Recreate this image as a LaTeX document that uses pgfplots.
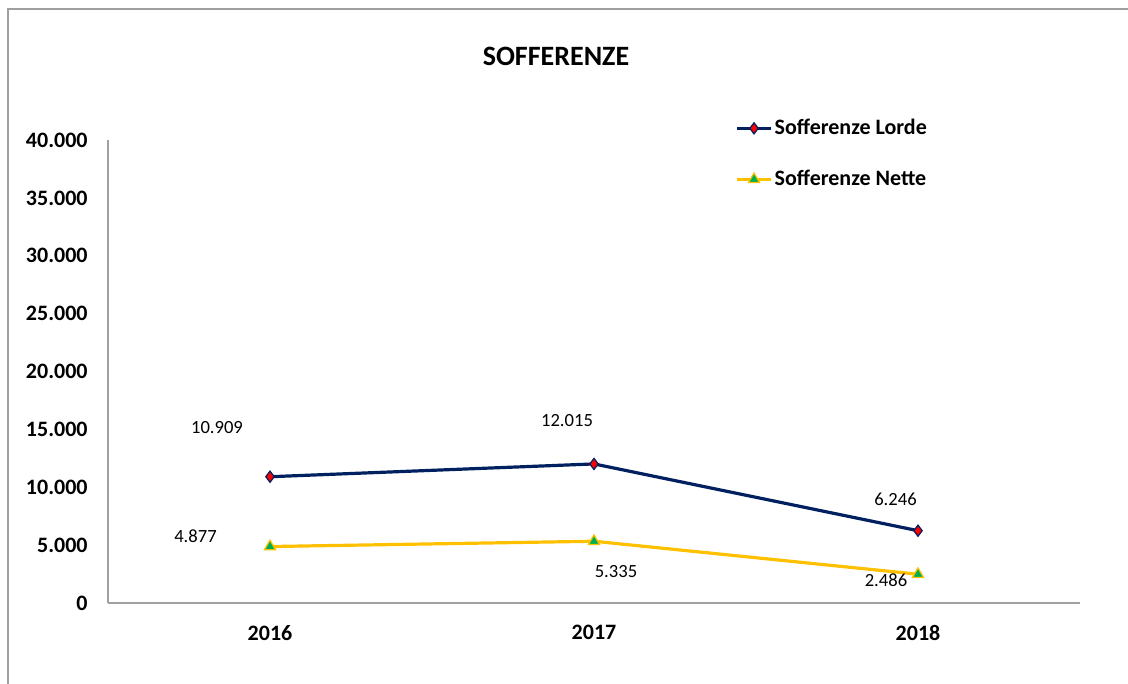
\documentclass[border=0pt]{standalone}
\usepackage{pgfplots}
\pgfplotsset{compat=1.18}
\usepackage{pgfplotstable}
\usepackage{fontspec}
\setmainfont{Carlito}
\definecolor{navy}{RGB}{0,32,96}
\definecolor{gold}{RGB}{255,192,0}
\definecolor{mkgreen}{RGB}{0,176,80}
\definecolor{axgray}{RGB}{160,160,160}
\pgfplotstableread{
x y label dx dy
0 10909 10.909 -26.5 24.5
1 12015 12.015 -13.5 21.5
2 6246 6.246 -11.25 15.5
}\lorde
\pgfplotstableread{
x y label dx dy
0 4877 4.877 -37.25 5.25
1 5335 5.335 11 -15
2 2486 2.486 -16 -3
}\nette
\begin{document}
\begin{tikzpicture}
\useasboundingbox (0,0) rectangle (564pt,342pt);
\draw[color=axgray, line width=0.7pt] (4pt,-20pt) -- (4pt,337.5pt) -- (600pt,337.5pt);
\node[font=\bfseries\fontsize{14}{16}\selectfont] at (278pt,314pt) {SOFFERENZE};
\begin{axis}[
  at={(54pt,40.5pt)}, anchor=south west,
  scale only axis, width=486pt, height=231.5pt,
  xmin=-0.5, xmax=2.5, ymin=0, ymax=40000,
  scaled y ticks=false,
  axis x line=bottom, axis y line=left,
  axis line style={axgray, line width=0.6pt, -},
  xtick={0,1,2}, xticklabels={2016,2017,2018},
  ytick={0,5000,10000,15000,20000,25000,30000,35000,40000},
  yticklabels={0,5.000,10.000,15.000,20.000,25.000,30.000,35.000,40.000},
  major tick length=0pt,
  tick label style={font=\bfseries\fontsize{11}{13}\selectfont},
  yticklabel style={anchor=east, inner sep=0pt, xshift=-10pt},
  xticklabel style={anchor=north, inner sep=0pt, yshift=-11pt},
  clip=false,
  legend style={draw=none, fill=none, at={(0.645,1.052)}, anchor=north west,
    inner sep=0pt, row sep=13.5pt,
    font=\bfseries\fontsize{11}{13}\selectfont,
    nodes={inner sep=1pt, text height=8pt, text depth=2pt}},
  legend cell align=left,
  point meta=explicit symbolic,
  nodes near coords,
  visualization depends on={\thisrow{dx} \as \dx},
  visualization depends on={\thisrow{dy} \as \dy},
  every node near coord/.append style={anchor=center, inner sep=0pt,
    font=\fontsize{9.3}{11}\selectfont, text=black,
    xshift=\dx pt, yshift=\dy pt},
]
\addplot[navy, line width=1.6pt, mark=diamond*, mark size=2.8pt,
  mark options={fill=red, draw=navy, line width=0.6pt}]
  table[x=x, y=y, meta=label] {\lorde};
\addlegendentry{Sofferenze Lorde}
\addplot[gold, line width=1.6pt, mark=triangle*, mark size=3.2pt,
  mark options={fill=mkgreen, draw=gold, line width=0.6pt}]
  table[x=x, y=y, meta=label] {\nette};
\addlegendentry{Sofferenze Nette}
\end{axis}
\end{tikzpicture}
\end{document}
